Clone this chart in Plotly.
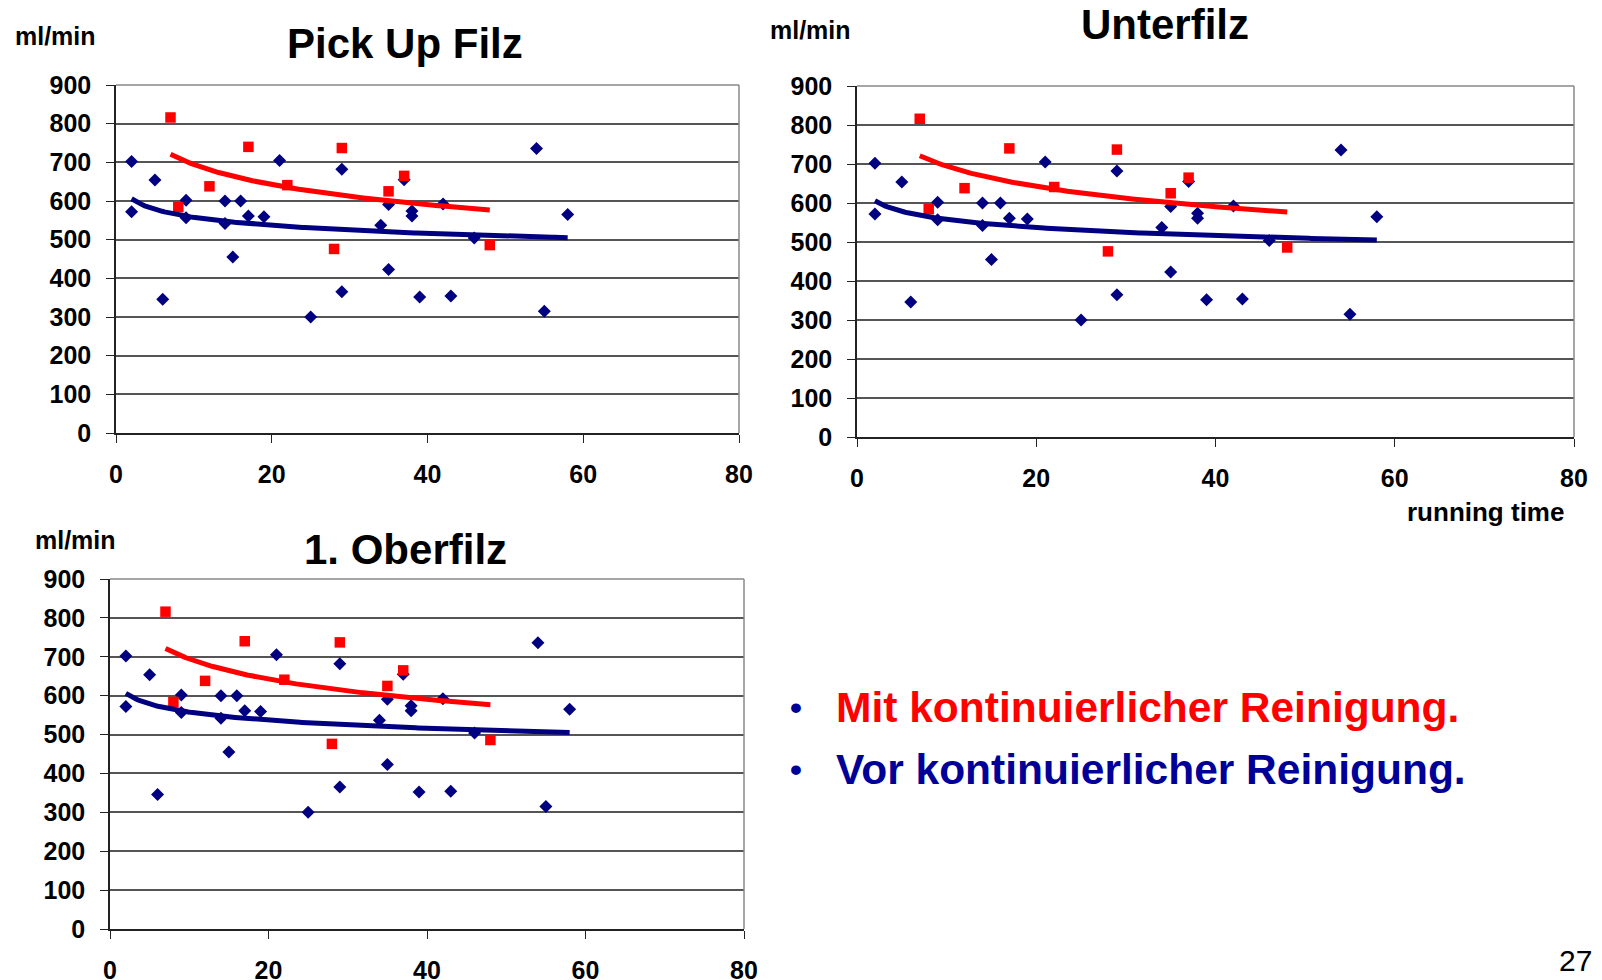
import numpy as np
import plotly.graph_objects as go

W, H = 1602, 980

# ---- data (same measurements shown in all three panels) ----
blue_x = [2, 2, 5, 6, 9, 9, 14, 14, 15, 16, 17, 19, 21, 25, 29, 29, 34, 35, 35,
          37, 38, 38, 39, 42, 43, 46, 54, 55, 58]
blue_y = [702, 572, 654, 346, 602, 557, 600, 542, 455, 600, 561, 559, 705, 300,
          682, 365, 537, 591, 423, 655, 574, 561, 352, 592, 354, 504, 736, 315, 565]
red_x = [7, 8, 12, 17, 22, 28, 29, 35, 37, 48]
red_y = [816, 584, 638, 740, 641, 476, 737, 625, 665, 486]

panel_titles = ["Pick Up Filz", "Unterfilz", "1. Oberfilz"]
x_ticks = [0, 20, 40, 60, 80]
y_ticks = [0, 100, 200, 300, 400, 500, 600, 700, 800, 900]
legend_texts = ["Mit kontinuierlicher Reinigung.", "Vor kontinuierlicher Reinigung."]
page_number = "27"

BLUE = "#000080"
RED = "#FF0000"
FONT = "Liberation Sans, Arial, sans-serif"


def px(x):
    return x / W


def py(y):
    return 1 - y / H


def log_trend(xs, ys):
    xs = np.asarray(xs, float)
    ys = np.asarray(ys, float)
    b, a = np.polyfit(np.log(xs), ys, 1)
    xx = np.linspace(xs.min(), xs.max(), 200)
    return xx, a + b * np.log(xx)


# pixel boxes of the three plot areas (left, right, top, bottom)
boxes = [(116, 739, 85, 433), (857, 1574, 86, 437), (110, 744, 579, 929)]

fig = go.Figure()
bx, by = log_trend(blue_x, blue_y)
rx, ry = log_trend(red_x, red_y)

for i, (l, r, t, b) in enumerate(boxes):
    n = "" if i == 0 else str(i + 1)
    xa, ya = "x" + n, "y" + n
    fig.add_trace(go.Scatter(x=blue_x, y=blue_y, mode="markers", xaxis=xa, yaxis=ya,
                             marker=dict(symbol="diamond", size=10, color=BLUE),
                             showlegend=False))
    fig.add_trace(go.Scatter(x=red_x, y=red_y, mode="markers", xaxis=xa, yaxis=ya,
                             marker=dict(symbol="square", size=10.5, color=RED),
                             showlegend=False))
    fig.add_trace(go.Scatter(x=bx, y=by, mode="lines", xaxis=xa, yaxis=ya,
                             line=dict(color=BLUE, width=5), showlegend=False,
                             hoverinfo="skip"))
    fig.add_trace(go.Scatter(x=rx, y=ry, mode="lines", xaxis=xa, yaxis=ya,
                             line=dict(color=RED, width=5), showlegend=False,
                             hoverinfo="skip"))
    fig.update_layout({
        "xaxis" + n: dict(domain=[px(l), px(r)], range=[0, 80], tickvals=x_ticks,
                          automargin=False,
                          showgrid=False, zeroline=False, showline=True,
                          linecolor="#222", linewidth=1.5, ticks="outside",
                          ticklen=8, tickcolor="#222", ticklabelstandoff=10,
                          anchor=ya, fixedrange=True,
                          tickfont=dict(family=FONT, size=25, color="black", weight="bold")),
        "yaxis" + n: dict(domain=[py(b), py(t)], range=[0, 900], tickvals=y_ticks,
                          automargin=False,
                          showgrid=True, gridcolor="#555", gridwidth=1.5,
                          zeroline=False, showline=True, linecolor="#222",
                          linewidth=1.5, ticks="outside", ticklen=8, tickcolor="#222",
                          ticklabelstandoff=10, anchor=xa, fixedrange=True,
                          tickfont=dict(family=FONT, size=25, color="black", weight="bold")),
    })
    fig.add_shape(type="line", xref=xa + " domain", yref=ya + " domain",
                  x0=1, x1=1, y0=0, y1=1, line=dict(color="#888", width=1.5))
    fig.add_shape(type="line", xref=xa + " domain", yref=ya + " domain",
                  x0=0, x1=1, y0=1, y1=1, line=dict(color="#888", width=1.5))

ann = []


def text(s, x, y, size, color="black", bold=True, xanchor="center"):
    ann.append(dict(text=("<b>%s</b>" % s) if bold else s, x=px(x), y=py(y),
                    xref="paper", yref="paper", showarrow=False, xanchor=xanchor,
                    yanchor="middle", font=dict(family=FONT, size=size, color=color)))


# titles
text(panel_titles[0], 405, 44, 42)
text(panel_titles[1], 1165, 25, 42)
text(panel_titles[2], 405, 549, 42)
# unit labels
text("ml/min", 55, 36, 25)
text("ml/min", 810, 30, 25)
text("ml/min", 75, 540, 25)
text("running time", 1485, 512, 26)
# legend
text("•", 796, 707, 34, color="#000099", xanchor="center")
text("•", 796, 769, 34, color="#000099", xanchor="center")
text(legend_texts[0], 834, 707, 42.5, color=RED, xanchor="left")
text(legend_texts[1], 834, 769, 42.5, color="#000099", xanchor="left")
# page number
text(page_number, 1575, 960, 30, bold=False)

fig.update_layout(width=W, height=H, margin=dict(l=0, r=0, t=0, b=0, autoexpand=False),
                  paper_bgcolor="white", plot_bgcolor="white", annotations=ann)

fig.write_html("out.html", config={"displayModeBar": False},
               post_script="document.body.style.margin='0';"
                           "document.body.style.overflow='hidden';")
